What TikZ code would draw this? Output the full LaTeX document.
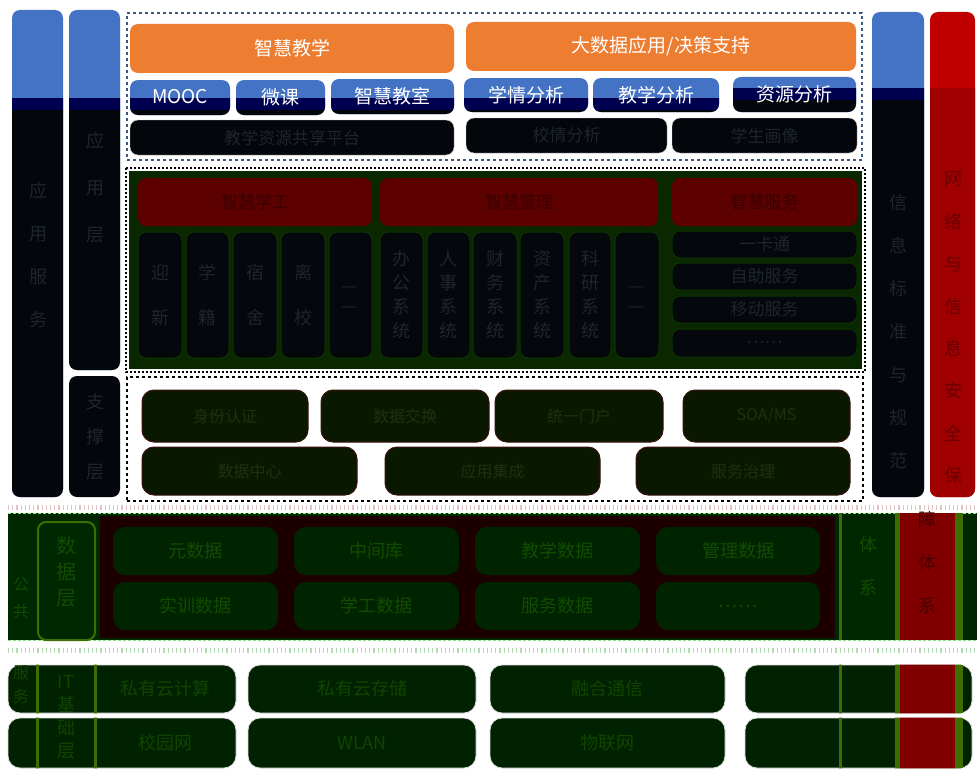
\documentclass[tikz,border=0pt]{standalone}
\usepackage{fontspec}
\newfontfamily\cjk{Noto Sans CJK SC}
\usetikzlibrary{fit}
\definecolor{orng}{HTML}{ED7D31}
\definecolor{blu}{HTML}{4472C4}
\definecolor{ovnavy}{HTML}{000050}
\definecolor{ovblk}{HTML}{03060B}
\definecolor{redtop}{HTML}{C00000}
\definecolor{redlow}{HTML}{A00000}
\definecolor{redtx}{HTML}{680000}
\definecolor{midg}{HTML}{0A2800}
\definecolor{hdr}{HTML}{5C0000}
\definecolor{hdrtx}{HTML}{3A0000}
\definecolor{subf}{HTML}{04070C}
\definecolor{subd}{HTML}{0E3300}
\definecolor{subtx}{HTML}{1E252C}
\definecolor{t3f}{HTML}{0A1800}
\definecolor{t3d}{HTML}{3A1010}
\definecolor{t3tx}{HTML}{1F3010}
\definecolor{maroon}{HTML}{1C0000}
\definecolor{dgf}{HTML}{002400}
\definecolor{dgb}{HTML}{002800}
\definecolor{dgtx}{HTML}{134C00}
\definecolor{olive}{HTML}{3F6E00}
\definecolor{dred}{HTML}{800000}
\definecolor{dredtx}{HTML}{4A0000}
\definecolor{itf}{HTML}{002200}
\definecolor{ittx}{HTML}{124400}
\definecolor{topdot}{HTML}{3B5B7E}
\definecolor{pinkdot}{HTML}{E0C4C4}
\definecolor{greendot}{HTML}{B4DCB4}
\tikzset{
  rbox/.style={rounded corners=8pt, inner sep=0pt, outer sep=0pt},
  wt/.style={text=white, font=\cjk\fontsize{19}{22}\selectfont},
  dkt/.style={text=subtx, font=\cjk\fontsize{17}{20}\selectfont},
  hdt/.style={text=hdrtx, font=\cjk\fontsize{17}{20}\selectfont},
  t3t/.style={text=t3tx, font=\cjk\fontsize{16}{20}\selectfont},
  dgt/.style={text=dgtx, font=\cjk\fontsize{18}{22}\selectfont},
  itt/.style={text=ittx, font=\cjk\fontsize{18}{22}\selectfont},
}
\newcommand\BOX[4]{\node[rbox,fill=#4,fit={(#2) (#3)}] (#1) {};}
\newcommand\BX[6]{\node[rbox,fill=#4,fit={(#2) (#3)}] (#1) {};
  \node[#5] (#1t) at (#1.center) {#6};}
\newcommand\ov[2]{%
  \begin{scope}\clip (0,#2) rectangle (977,{#2+12});
    \fill[ovnavy,rounded corners=8pt] (#1.north west) rectangle (#1.south east);\end{scope}
  \begin{scope}\clip (0,{#2+12}) rectangle (977,500);
    \fill[ovblk,rounded corners=8pt] (#1.north west) rectangle (#1.south east);\end{scope}}
\begin{document}
\begin{tikzpicture}[x=1pt,y=-1pt]
\useasboundingbox (0,0) rectangle (977,776);
\fill[white] (0,0) rectangle (977,776);

% ---------- left columns ----------
\BOX{colA}{12,10}{63,497}{blu}
\ov{colA}{98}
\node[text=subtx, font=\cjk\fontsize{18}{43}\selectfont, align=center] (colAt) at (38,255) {应\\用\\服\\务};
\BOX{colB}{69,10}{120,370}{blu}
\ov{colB}{98}
\node[text=subtx, font=\cjk\fontsize{18}{47}\selectfont, align=center] (colBt) at (95,188) {应\\用\\层};
\BOX{colBb}{69,376}{120,497}{ovblk}
\node[text=subtx, font=\cjk\fontsize{18}{35}\selectfont, align=center] (colBbt) at (95,437) {支\\撑\\层};

% ---------- right columns ----------
\BOX{colC}{872,12}{924,497}{blu}
\ov{colC}{88}
\node[text=subtx, font=\cjk\fontsize{18}{43}\selectfont, align=center] (colCt) at (898,332) {信\\息\\标\\准\\与\\规\\范};
\BOX{colD}{930,12}{975,497}{redtop}
\begin{scope}\clip (0,88) rectangle (977,500);
  \fill[redlow,rounded corners=8pt] (colD.north west) rectangle (colD.south east);\end{scope}
\node[text=redtx, font=\cjk\fontsize{18}{42.4}\selectfont, align=center] (colDt) at (953,328) {网\\络\\与\\信\\息\\安\\全\\保};

% ---------- top section ----------
\node[fit={(127,13) (862,160)}, inner sep=0pt, draw=topdot, line width=2.5pt, dash pattern=on 3pt off 3pt] (topframe) {};
\BX{jx}{130,24}{454,73}{orng}{wt}{智慧教学}
\BX{dsj}{466,22}{856,71}{orng}{wt}{大数据应用/决策支持}
\BOX{mooc}{130,80}{230,115}{blu}\ov{mooc}{98}
\node[wt] (mooct) at (180,97) {MOOC};
\BOX{wk}{236,80}{325,115}{blu}\ov{wk}{98}
\node[wt] (wkt) at (280,97) {微课};
\BOX{zhjs}{331,79}{454,114}{blu}\ov{zhjs}{98}
\node[wt] (zhjst) at (392,96) {智慧教室};
\BOX{xqfx}{464,78}{588,112}{blu}\ov{xqfx}{98}
\node[wt] (xqfxt) at (526,95) {学情分析};
\BOX{jxfx}{593,78}{719,112}{blu}\ov{jxfx}{98}
\node[wt] (jxfxt) at (656,95) {教学分析};
\BOX{zyfx}{733,77}{856,112}{blu}\ov{zyfx}{88}
\node[wt] (zyfxt) at (794,94) {资源分析};
\node[rbox,fill=ovblk,draw=gray!40,fit={(130,120) (454,155)}] (zyk) {};
\node[dkt] (zykt) at (zyk.center) {教学资源共享平台};
\node[rbox,fill=ovblk,draw=gray!40,fit={(466,118) (667,153)}] (xqa) {};
\node[dkt] (xqat) at (xqa.center) {校情分析};
\node[rbox,fill=ovblk,draw=gray!40,fit={(672,118) (857,153)}] (hx) {};
\node[dkt] (hxt) at (hx.center) {学生画像};

% ---------- middle section ----------
\node[fit={(127,169) (863,370)}, inner sep=0pt, fill=midg, draw=white, line width=3pt] (midframe) {};
\draw[black, line width=2pt, dash pattern=on 2pt off 2pt] (midframe.north west) rectangle (midframe.south east);
\BX{xg}{138,178}{372,226}{hdr}{hdt}{智慧学工}
\BX{gl}{380,178}{658,226}{hdr}{hdt}{智慧管理}
\BX{fw}{672,178}{857,226}{hdr}{hdt}{智慧服务}
\tikzset{sub/.style={rbox,fill=subf,draw=subd,line width=1pt},
  v2/.style={text=subtx, font=\cjk\fontsize{18}{45}\selectfont, align=center},
  v4/.style={text=subtx, font=\cjk\fontsize{18}{24}\selectfont, align=center}}
\node[sub,fit={(138,232) (182,358)}] (x1) {}; \node[v2] (x1t) at (x1.center) {迎\\新};
\node[sub,fit={(186,232) (229,358)}] (x2) {}; \node[v2] (x2t) at (x2.center) {学\\籍};
\node[sub,fit={(233,232) (277,358)}] (x3) {}; \node[v2] (x3t) at (x3.center) {宿\\舍};
\node[sub,fit={(281,232) (325,358)}] (x4) {}; \node[v2] (x4t) at (x4.center) {离\\校};
\node[sub,fit={(329,232) (372,358)}] (x5) {}; \node[text=subtx, font=\cjk\fontsize{18}{20}\selectfont, align=center] (x5t) at (350,300) {—\\—};
\node[sub,fit={(380,232) (423,358)}] (g1) {}; \node[v4] (g1t) at (g1.center) {办\\公\\系\\统};
\node[sub,fit={(427,232) (470,358)}] (g2) {}; \node[v4] (g2t) at (g2.center) {人\\事\\系\\统};
\node[sub,fit={(473,232) (517,358)}] (g3) {}; \node[v4] (g3t) at (g3.center) {财\\务\\系\\统};
\node[sub,fit={(520,232) (564,358)}] (g4) {}; \node[v4] (g4t) at (g4.center) {资\\产\\系\\统};
\node[sub,fit={(569,232) (611,358)}] (g5) {}; \node[v4] (g5t) at (g5.center) {科\\研\\系\\统};
\node[sub,fit={(615,232) (659,358)}] (g6) {}; \node[text=subtx, font=\cjk\fontsize{18}{20}\selectfont, align=center] (g6t) at (637,300) {—\\—};
\node[sub,fit={(672,231) (857,258)}] (f1) {}; \node[dkt] (f1t) at (f1.center) {一卡通};
\node[sub,fit={(672,263) (857,290)}] (f2) {}; \node[dkt] (f2t) at (f2.center) {自助服务};
\node[sub,fit={(672,296) (857,323)}] (f3) {}; \node[dkt] (f3t) at (f3.center) {移动服务};
\node[sub,fit={(672,329) (857,357)}] (f4) {}; \node[dkt] (f4t) at (f4.center) {……};

% ---------- support section ----------
\node[fit={(127,377) (863,501)}, inner sep=0pt, draw=black, line width=2.5pt, dash pattern=on 3pt off 3pt] (supframe) {};
\tikzset{s3/.style={rounded corners=12pt,inner sep=0pt,fill=t3f,draw=t3d,line width=1pt}}
\node[s3,fit={(142,390) (308,442)}] (s1) {}; \node[t3t] (s1t) at (s1.center) {身份认证};
\node[s3,fit={(321,390) (489,442)}] (s2) {}; \node[t3t] (s2t) at (s2.center) {数据交换};
\node[s3,fit={(495,390) (663,442)}] (s3b) {}; \node[t3t] (s3t) at (s3b.center) {统一门户};
\node[s3,fit={(683,390) (850,442)}] (s4) {}; \node[t3t] (s4t) at (s4.center) {SOA/MS};
\node[s3,fit={(142,447) (357,495)}] (s5) {}; \node[t3t] (s5t) at (s5.center) {数据中心};
\node[s3,fit={(385,447) (600,495)}] (s6) {}; \node[t3t] (s6t) at (s6.center) {应用集成};
\node[s3,fit={(636,447) (850,495)}] (s7) {}; \node[t3t] (s7t) at (s7.center) {服务治理};
\draw[pinkdot, line width=5pt, dash pattern=on 1.2pt off 3pt] (8,507) -- (977,507);

% ---------- data layer ----------
\fill[dgb] (8,513) rectangle (977,640);
\draw[greendot!70!green, line width=1pt, dash pattern=on 3pt off 2pt] (8,513) -- (977,513);
\draw[greendot!70!green, line width=1pt, dash pattern=on 3pt off 2pt] (8,640) -- (977,640);
\node[fill=maroon, inner sep=0pt, fit={(100,516) (835,638)}] (dframe) {};
\node[rbox, fill=dgb, draw=olive, line width=2pt, fit={(38,522) (95,640)}] (dlab) {};
\node[text=dgtx, font=\cjk\fontsize{20}{26}\selectfont, align=center] (dlabt) at (66,572) {数\\据\\层};
\node[text=dgtx, font=\cjk\fontsize{16}{27}\selectfont, align=center] (pubt1) at (21,598) {公\\共};
\tikzset{dbx/.style={rounded corners=12pt,inner sep=0pt,fill=dgf}}
\node[dbx,fit={(113,527) (278,575)}] (d1) {}; \node[dgt] (d1t) at (d1.center) {元数据};
\node[dbx,fit={(294,527) (459,575)}] (d2) {}; \node[dgt] (d2t) at (d2.center) {中间库};
\node[dbx,fit={(475,527) (640,575)}] (d3) {}; \node[dgt] (d3t) at (d3.center) {教学数据};
\node[dbx,fit={(656,527) (820,575)}] (d4) {}; \node[dgt] (d4t) at (d4.center) {管理数据};
\node[dbx,fit={(113,582) (278,630)}] (d5) {}; \node[dgt] (d5t) at (d5.center) {实训数据};
\node[dbx,fit={(294,582) (459,630)}] (d6) {}; \node[dgt] (d6t) at (d6.center) {学工数据};
\node[dbx,fit={(475,582) (640,630)}] (d7) {}; \node[dgt] (d7t) at (d7.center) {服务数据};
\node[dbx,fit={(656,582) (820,630)}] (d8) {}; \node[dgt] (d8t) at (d8.center) {……};
\fill[olive] (839,513) rectangle (842,640);
\fill[olive] (895,513) rectangle (900,640);
\node[fill=dred, inner sep=0pt, fit={(900,513) (955,640)}] (dsec) {};
\fill[olive] (955,513) rectangle (963,640);
\node[text=dgtx, font=\cjk\fontsize{18}{43}\selectfont, align=center] (colCl) at (868,566) {体\\系};
\node[text=dredtx, font=\cjk\fontsize{18}{43}\selectfont, align=center] (colDl) at (927,563) {障\\体\\系};
\draw[greendot, line width=5pt, dash pattern=on 1.2pt off 3pt] (8,650) -- (977,650);

% ---------- IT base ----------
\tikzset{itb/.style={rounded corners=12pt,inner sep=0pt,fill=itf,draw=gray!25,line width=0.8pt}}
\node[itb,fit={(8,665) (236,713)}] (i1) {};
\node[itb,fit={(248,665) (476,713)}] (i2) {};
\node[itb,fit={(490,665) (725,713)}] (i3) {};
\node[itb,fit={(745,665) (972,713)}] (i4) {};
\node[itb,fit={(8,718) (236,768)}] (i5) {};
\node[itb,fit={(248,718) (476,768)}] (i6) {};
\node[itb,fit={(490,718) (725,768)}] (i7) {};
\node[itb,fit={(745,718) (972,768)}] (i8) {};
\foreach \b in {i1,i5}{
  \begin{scope}\clip[rounded corners=12pt] (\b.north west) rectangle (\b.south east);
    \fill[olive] (36,600) rectangle (39,776);
    \fill[olive] (94,600) rectangle (97,776);
  \end{scope}}
\foreach \b in {i4,i8}{
  \begin{scope}\clip[rounded corners=12pt] (\b.north west) rectangle (\b.south east);
    \fill[olive] (839,600) rectangle (842,776);
    \fill[olive] (895,600) rectangle (900,776);
    \fill[dred] (900,600) rectangle (955,776);
    \fill[olive] (955,600) rectangle (963,776);
  \end{scope}}
\node[text=ittx, font=\cjk\fontsize{18}{23}\selectfont, align=center] (itlab) at (66,717) {IT\\基\\础\\层};
\node[text=ittx, font=\cjk\fontsize{16}{24}\selectfont, align=center] (pubt2) at (21,685) {服\\务};
\node[itt] (i1t) at (165,689) {私有云计算};
\node[itt] (i2t) at (i2.center) {私有云存储};
\node[itt] (i3t) at (i3.center) {融合通信};
\node[itt] (i5t) at (165,743) {校园网};
\node[itt] (i6t) at (i6.center) {WLAN};
\node[itt] (i7t) at (i7.center) {物联网};
\end{tikzpicture}
\end{document}
